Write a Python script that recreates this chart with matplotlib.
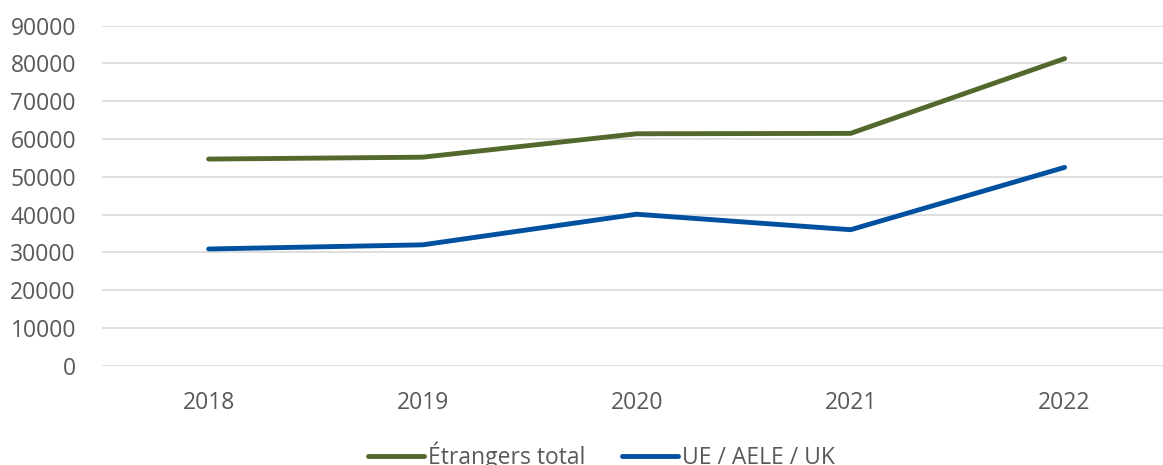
import matplotlib.pyplot as plt

years = ["2018", "2019", "2020", "2021", "2022"]
etrangers_total = [54700, 55200, 61400, 61500, 81300]
ue_aele_uk = [30900, 32000, 40100, 36000, 52500]
y_ticks = [0, 10000, 20000, 30000, 40000, 50000, 60000, 70000, 80000, 90000]

plt.rcParams["font.family"] = ["Open Sans", "DejaVu Sans"]

fig = plt.figure(figsize=(11.63, 4.65), dpi=100)
ax = fig.add_axes([0.0874, 0.2135, 0.920, 0.7312])

x = list(range(len(years)))
ax.plot(x, etrangers_total, color="#53682c", lw=3.5, solid_capstyle="round",
        solid_joinstyle="round", label="Étrangers total", clip_on=False)
ax.plot(x, ue_aele_uk, color="#0050a0", lw=3.5, solid_capstyle="round",
        solid_joinstyle="round", label="UE / AELE / UK", clip_on=False)

ax.set_xlim(-0.5, len(years) - 0.5)
ax.set_ylim(0, 90000)
ax.set_xticks(x)
ax.set_xticklabels(years)
ax.set_yticks(y_ticks)
ax.set_yticklabels([str(v) for v in y_ticks])

ax.grid(axis="y", color="#d9d9d9", lw=1.2)
ax.set_axisbelow(True)
for s in ax.spines.values():
    s.set_visible(False)
ax.tick_params(axis="both", length=0, labelsize=16.5, labelcolor="#595959")
ax.tick_params(axis="x", pad=18.5)
ax.tick_params(axis="y", pad=18.5)

fig.legend(loc="center", bbox_to_anchor=(0.517, 0.019), ncol=2, frameon=False,
           fontsize=16.5, labelcolor="#595959", handlelength=2.45,
           handletextpad=0.18, columnspacing=1.6)

fig.savefig("out.png", dpi=100)
